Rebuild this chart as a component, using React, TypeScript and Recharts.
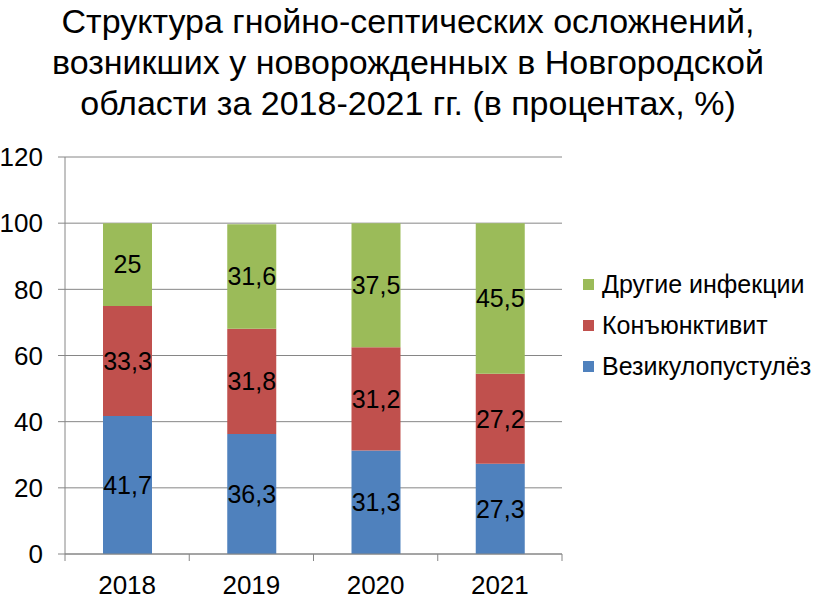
import { Bar, BarChart, CartesianGrid, LabelList, Legend, XAxis, YAxis } from "recharts";

const years = ["2018", "2019", "2020", "2021"];
const vesiculo = [41.7, 36.3, 31.3, 27.3];
const conjunct = [33.3, 31.8, 31.2, 27.2];
const other = [25, 31.6, 37.5, 45.5];
const yTicks = [0, 20, 40, 60, 80, 100, 120];

// no serif face in the sandbox, so sans sized to match the original widths
const FONT = '"Liberation Sans", Arial, sans-serif';
const GRID = "#868686";

const series = [
  { key: "vesiculo", name: "Везикулопустулёз", color: "#4F81BD" },
  { key: "conjunct", name: "Конъюнктивит", color: "#C0504D" },
  { key: "other", name: "Другие инфекции", color: "#9BBB59" },
];

const data = years.map((year, i) => ({
  year,
  vesiculo: vesiculo[i],
  conjunct: conjunct[i],
  other: other[i],
}));

const fmt = (v: any) => String(v).replace(".", ",");

function YearTick(props: any) {
  const { x, y, payload, index } = props;
  const half = payload?.offset ?? 62;
  const last = index === years.length - 1;
  return (
    <g>
      <line x1={x - half} x2={x - half} y1={y} y2={y + 7} stroke={GRID} />
      {last && <line x1={x + half} x2={x + half} y1={y} y2={y + 7} stroke={GRID} />}
      <text x={x} y={y + 40} textAnchor="middle" fontFamily={FONT} fontSize={26} fill="#000">
        {payload.value}
      </text>
    </g>
  );
}

function LegendBox() {
  return (
    <div style={{ fontFamily: FONT, fontSize: 25, color: "#000" }}>
      {[...series].reverse().map((s) => (
        <div key={s.key} style={{ display: "flex", alignItems: "center", height: 41 }}>
          <span style={{ width: 11, height: 11, background: s.color, marginRight: 8, display: "inline-block" }} />
          <span>{s.name}</span>
        </div>
      ))}
    </div>
  );
}

export default function App() {
  return (
    <div style={{ position: "absolute", left: 0, top: 0, width: 816, height: 613, background: "#fff" }}>
      <div
        style={{
          position: "absolute",
          left: 0,
          top: 1,
          width: 816,
          textAlign: "center",
          fontFamily: FONT,
          fontSize: 34,
          lineHeight: "41px",
          color: "#000",
        }}
      >
        Структура гнойно-септических осложнений,
        <br />
        возникших у новорожденных в Новгородской
        <br />
        области за 2018-2021 гг. (в процентах, %)
      </div>
      <BarChart
        width={816}
        height={613}
        data={data}
        margin={{ top: 157, right: 254, bottom: 0, left: 0 }}
      >
        <CartesianGrid vertical={false} stroke={GRID} />
        <XAxis
          dataKey="year"
          height={59}
          axisLine={{ stroke: GRID }}
          tickLine={false}
          tickSize={0}
          tickMargin={0}
          interval={0}
          tick={<YearTick />}
        />
        <YAxis
          width={65}
          domain={[0, 120]}
          ticks={yTicks}
          interval={0}
          axisLine={{ stroke: GRID }}
          tickLine={{ stroke: GRID }}
          tickSize={7}
          tickMargin={15}
          tick={{ fontFamily: FONT, fontSize: 26, fill: "#000" }}
        />
        <Legend
          layout="vertical"
          align="center"
          verticalAlign="middle"
          wrapperStyle={{ left: 583, top: 264, width: 232 }}
          content={<LegendBox />}
        />
        {series.map((s) => (
          <Bar key={s.key} dataKey={s.key} name={s.name} stackId="a" fill={s.color} barSize={49} isAnimationActive={false}>
            <LabelList
              dataKey={s.key}
              position="center"
              formatter={fmt}
              style={{ fontFamily: FONT, fontSize: 25, fill: "#000" }}
            />
          </Bar>
        ))}
      </BarChart>
    </div>
  );
}
